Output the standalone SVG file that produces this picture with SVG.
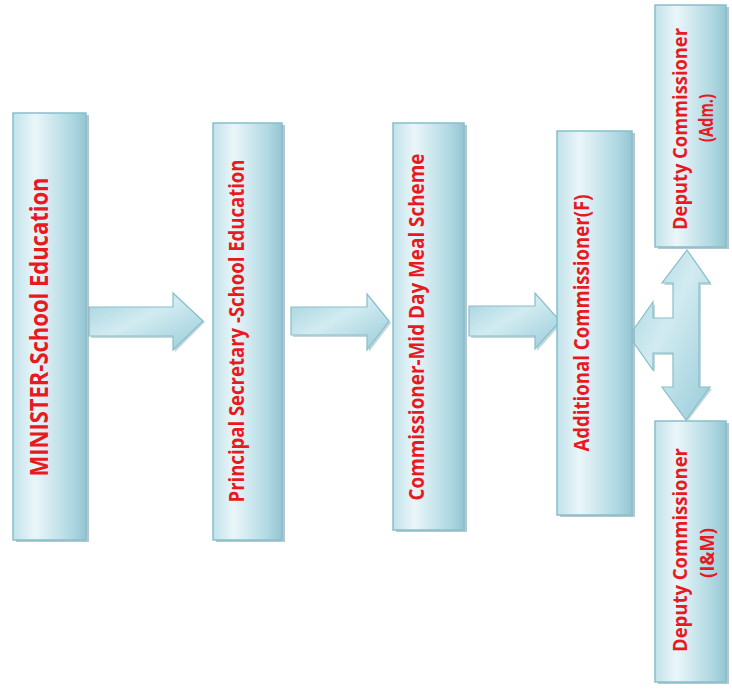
<svg xmlns="http://www.w3.org/2000/svg" width="732" height="697" viewBox="0 0 732 697">
  <defs>
    <linearGradient id="boxGrad" x1="0" y1="0" x2="1" y2="0">
      <stop offset="0" stop-color="#c2e2ea"/>
      <stop offset="0.3" stop-color="#eaf6f9"/>
      <stop offset="0.8" stop-color="#afd8e2"/>
      <stop offset="1" stop-color="#94c6d2"/>
    </linearGradient>
    <linearGradient id="arrowGrad" x1="0" y1="0" x2="1" y2="1">
      <stop offset="0" stop-color="#a2d1dc"/>
      <stop offset="0.45" stop-color="#d2ebf1"/>
      <stop offset="1" stop-color="#98ccd9"/>
    </linearGradient>
    <style>
      .shadow { fill: #93afb6; opacity: 0.7; }
      .box { fill: url(#boxGrad); stroke: #86bfcc; stroke-width: 1.5; }
      .arrow { fill: url(#arrowGrad); stroke: #86bfcc; stroke-width: 1.2; stroke-linejoin: miter; }
      .ashadow { fill: #9dbcc3; opacity: 0.6; }
      .lbl { font-family: "Open Sans", Lato, "Liberation Sans", sans-serif; font-weight: bold; fill: #e8191f; text-anchor: middle; }
    </style>
  </defs>
  <rect width="732" height="697" fill="#ffffff"/>

  <g id="connectors">
    <g id="arrow1">
      <polygon class="ashadow" points="91,309 175,309 175,295 205,322 175,352 175,338 91,338"/>
      <polygon class="arrow" points="89,307 173,307 173,293 203,321 173,350 173,336 89,336"/>
    </g>
    <g id="arrow2">
      <polygon class="ashadow" points="293,309 369,309 369,296 391,323 369,352 369,337 293,337"/>
      <polygon class="arrow" points="291,307 367,307 367,294 389,321 367,350 367,335 291,335"/>
    </g>
    <g id="arrow3">
      <polygon class="ashadow" points="471,308 537,308 537,295 562,323 537,351 537,338 471,338"/>
      <polygon class="arrow" points="469,306 535,306 535,293 560,321 535,349 535,336 469,336"/>
    </g>
    <g id="arrow-branch">
      <polygon class="ashadow" points="689,252 712,285 701,285 701,389 712,389 687,422 664,389 675,389 675,355 655,355 655,372 631,337 655,304 655,320 675,320 675,285 664,285"/>
      <polygon class="arrow" points="687,250 710,283 699,283 699,387 710,387 686,420 662,387 673,387 673,353 653,353 653,370 629,336 653,302 653,318 673,318 673,283 662,283"/>
    </g>
  </g>

  <g id="node-minister">
    <rect class="shadow" x="16" y="115" width="73" height="427"/>
    <rect class="box" x="13" y="113" width="73" height="427"/>
    <text class="lbl" font-size="25" textLength="299" lengthAdjust="spacingAndGlyphs" transform="translate(48,327) rotate(-90)">MINISTER-School Education</text>
  </g>

  <g id="node-principal-secretary">
    <rect class="shadow" x="216" y="125" width="69" height="417"/>
    <rect class="box" x="213" y="123" width="69" height="417"/>
    <text class="lbl" font-size="22" textLength="343" lengthAdjust="spacingAndGlyphs" transform="translate(244,331) rotate(-90)">Principal Secretary -School Education</text>
  </g>

  <g id="node-commissioner">
    <rect class="shadow" x="396" y="125" width="71" height="407"/>
    <rect class="box" x="393" y="123" width="71" height="407"/>
    <text class="lbl" font-size="22" textLength="347" lengthAdjust="spacingAndGlyphs" transform="translate(424,327) rotate(-90)">Commissioner-Mid Day Meal Scheme</text>
  </g>

  <g id="node-additional-commissioner">
    <rect class="shadow" x="560" y="133" width="75" height="384"/>
    <rect class="box" x="557" y="131" width="75" height="384"/>
    <text class="lbl" font-size="22" textLength="257" lengthAdjust="spacingAndGlyphs" transform="translate(589,323) rotate(-90)">Additional Commissioner(F)</text>
  </g>

  <g id="node-deputy-adm">
    <rect class="shadow" x="658" y="7" width="71" height="242"/>
    <rect class="box" x="655" y="5" width="71" height="242"/>
    <text class="lbl" font-size="20" textLength="202" lengthAdjust="spacingAndGlyphs" transform="translate(687,129) rotate(-90)">Deputy Commissioner</text>
    <text class="lbl" font-size="20" textLength="48" lengthAdjust="spacingAndGlyphs" transform="translate(713,118) rotate(-90)">(Adm.)</text>
  </g>

  <g id="node-deputy-im">
    <rect class="shadow" x="658" y="423" width="71" height="261"/>
    <rect class="box" x="655" y="421" width="71" height="261"/>
    <text class="lbl" font-size="20" textLength="204" lengthAdjust="spacingAndGlyphs" transform="translate(687,550) rotate(-90)">Deputy Commissioner</text>
    <text class="lbl" font-size="20" textLength="50" lengthAdjust="spacingAndGlyphs" transform="translate(714,553) rotate(-90)">(I&amp;M)</text>
  </g>
</svg>
